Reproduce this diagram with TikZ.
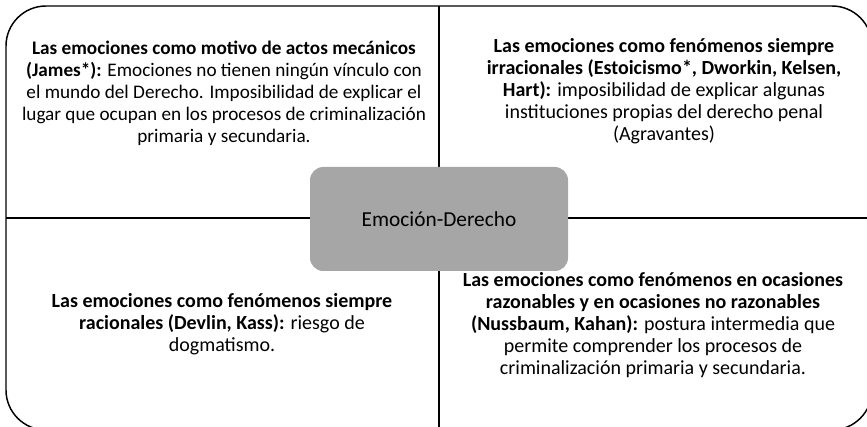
\documentclass[tikz,border=0pt]{standalone}
\usepackage{fontspec}
\setmainfont{Carlito}
\usepackage{tikz}
\usetikzlibrary{positioning}
\definecolor{centergray}{RGB}{166, 166, 166}

\begin{document}
\begin{tikzpicture}[x=0.75pt, y=-0.75pt]
    \useasboundingbox (0, 0) rectangle (867, 427);

    % Frame and dividers
    \coordinate (north) at (439, 6);
    \coordinate (south) at (439, 430);
    \coordinate (west) at (6, 218);
    \coordinate (east) at (872, 218);
    \draw[line width=1.1pt, rounded corners=30pt] (6, 6) rectangle (872, 430);
    \draw[line width=1.1pt] (north) -- (south);
    \draw[line width=1.1pt] (west) -- (east);

    % Center
    \node[fill=centergray, rounded corners=10pt, minimum width=193.5pt, minimum height=78pt, font=\fontsize{16}{18}\selectfont] (emocion) at (439, 219) {Emoción-Derecho};

    % Quadrants
    \node[align=center, font=\fontsize{14.4}{16.5}\selectfont] (mecanicos) at (224, 93) {\textbf{Las emociones como motivo de actos mecánicos}\\\textbf{(James*):} Emociones no tienen ningún vínculo con\\el mundo del Derecho. Imposibilidad de explicar el\\lugar que ocupan en los procesos de criminalización\\primaria y secundaria.};
    \node[align=center, font=\fontsize{15}{16.5}\selectfont] (irracionales) at (664, 91) {\textbf{Las emociones como fenómenos siempre}\\\textbf{irracionales (Estoicismo*, Dworkin, Kelsen,}\\\textbf{Hart):} imposibilidad de explicar algunas\\instituciones propias del derecho penal\\(Agravantes)};
    \node[align=center, font=\fontsize{15}{16.5}\selectfont] (racionales) at (222, 324) {\textbf{Las emociones como fenómenos siempre}\\\textbf{racionales (Devlin, Kass):} riesgo de\\dogmatismo.};
    \node[align=center, font=\fontsize{15}{16.5}\selectfont] (razonables) at (653, 325) {\textbf{Las emociones como fenómenos en ocasiones}\\\textbf{razonables y en ocasiones no razonables}\\\textbf{(Nussbaum, Kahan):} postura intermedia que\\permite comprender los procesos de\\criminalización primaria y secundaria.};
\end{tikzpicture}
\end{document}
